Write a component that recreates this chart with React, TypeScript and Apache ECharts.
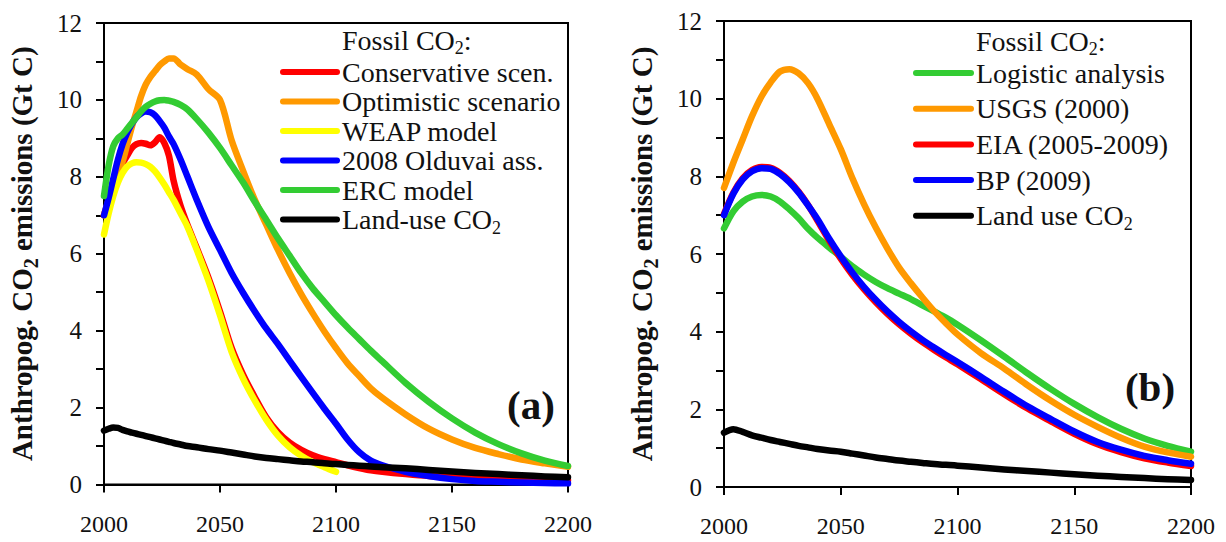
import React, { useEffect, useRef } from "react";
import * as echarts from "echarts";

// ---- Panel (a): fossil scenarios + land-use emissions (Gt C / yr) ----
const yearsA = [
  2000, 2002, 2004, 2006, 2008, 2010, 2012, 2014, 2016, 2018, 2020, 2022, 2024,
  2026, 2028, 2030, 2033, 2036, 2040, 2045, 2050, 2055, 2060, 2065, 2070, 2075,
  2080, 2085, 2090, 2095, 2100, 2105, 2110, 2115, 2120, 2130, 2140, 2150, 2160,
  2170, 2180, 2190, 2200,
];
const conservativeA = [
  7.0, 7.4, 7.8, 8.1, 8.35, 8.55, 8.75, 8.85, 8.88, 8.86, 8.82, 8.9, 9.03,
  8.88, 8.55, 7.9, 7.25, 6.75, 6.15, 5.38, 4.5, 3.55, 2.85, 2.27, 1.74, 1.36,
  1.09, 0.9, 0.76, 0.66, 0.58, 0.5, 0.43, 0.37, 0.33, 0.27, 0.22, 0.19, 0.16,
  0.14, 0.13, 0.12, 0.11,
];
const optimisticA = [
  7.0, 7.4, 7.8, 8.1, 8.4, 8.85, 9.3, 9.7, 10.1, 10.4, 10.6, 10.75, 10.9,
  11.0, 11.08, 11.08, 10.92, 10.8, 10.66, 10.28, 10.0, 8.95, 8.15, 7.4, 6.75,
  6.1, 5.5, 4.95, 4.45, 3.98, 3.55, 3.15, 2.82, 2.5, 2.25, 1.82, 1.45, 1.17,
  0.95, 0.79, 0.65, 0.55, 0.46,
];
const weapA = [
  6.5, 7.05, 7.5, 7.85, 8.1, 8.27, 8.35, 8.38, 8.37, 8.33, 8.26, 8.14, 7.98,
  7.8, 7.6, 7.4, 7.05, 6.7, 6.1, 5.3, 4.4, 3.45, 2.75, 2.18, 1.68, 1.27, 0.97,
  0.75, 0.58, 0.45, 0.33,
];
const olduvaiA = [
  7.0, 7.45, 7.95, 8.45, 8.85, 9.15, 9.38, 9.55, 9.65, 9.7, 9.68, 9.6, 9.45,
  9.28, 9.05, 8.85, 8.45, 8.0, 7.4, 6.7, 6.1, 5.5, 4.98, 4.5, 4.05, 3.65, 3.22,
  2.8, 2.38, 1.97, 1.58, 1.17, 0.84, 0.62, 0.5, 0.33, 0.22, 0.14, 0.09, 0.07,
  0.05, 0.04, 0.03,
];
const ercA = [
  7.5, 8.3, 8.8, 9.0, 9.1, 9.25, 9.4, 9.55, 9.7, 9.82, 9.9, 9.96, 9.99, 10.0,
  9.98, 9.95, 9.87, 9.75, 9.5, 9.15, 8.75, 8.3, 7.85, 7.35, 6.88, 6.4, 5.95,
  5.5, 5.1, 4.75, 4.4, 4.08, 3.78, 3.48, 3.2, 2.64, 2.15, 1.72, 1.35, 1.05,
  0.81, 0.62, 0.48,
];
const landUseA = [
  1.4, 1.45, 1.48, 1.47, 1.42, 1.38, 1.35, 1.32, 1.29, 1.26, 1.23, 1.2, 1.17,
  1.14, 1.11, 1.08, 1.04, 1.0, 0.97, 0.92, 0.88, 0.83, 0.78, 0.73, 0.69, 0.66,
  0.63, 0.6, 0.58, 0.55, 0.53, 0.51, 0.49, 0.47, 0.45, 0.42, 0.38, 0.34, 0.3,
  0.27, 0.24, 0.21, 0.19,
];

// ---- Panel (b): fossil projections + land-use emissions ----
const yearsB = [
  2000, 2004, 2008, 2012, 2016, 2020, 2024, 2028, 2032, 2036, 2040, 2045, 2050,
  2055, 2060, 2065, 2070, 2075, 2080, 2085, 2090, 2095, 2100, 2110, 2120, 2130,
  2140, 2150, 2160, 2170, 2180, 2190, 2200,
];
const logisticB = [
  6.66, 7.1, 7.35, 7.48, 7.52, 7.48, 7.35, 7.15, 6.92, 6.65, 6.42, 6.17, 5.93,
  5.68, 5.47, 5.28, 5.12, 4.98, 4.84, 4.68, 4.52, 4.36, 4.18, 3.78, 3.36, 2.93,
  2.52, 2.14, 1.8, 1.5, 1.25, 1.06, 0.91,
];
const usgsB = [
  7.7, 8.35, 8.95, 9.55, 10.05, 10.42, 10.7, 10.76, 10.65, 10.4, 10.0, 9.35,
  8.7, 7.95, 7.28, 6.68, 6.14, 5.65, 5.25, 4.88, 4.53, 4.22, 3.93, 3.45, 3.05,
  2.62, 2.22, 1.86, 1.55, 1.27, 1.04, 0.89, 0.78,
];
const eiaB = [
  7.03, 7.58, 7.95, 8.16, 8.24, 8.22, 8.09, 7.88, 7.6, 7.26, 6.86, 6.35, 5.88,
  5.46, 5.09, 4.76, 4.46, 4.19, 3.95, 3.73, 3.53, 3.34, 3.16, 2.78, 2.39, 2.02,
  1.69, 1.37, 1.1, 0.9, 0.74, 0.63, 0.54,
];
const bpB = [
  7.0, 7.55, 7.92, 8.13, 8.21, 8.19, 8.06, 7.85, 7.58, 7.25, 6.9, 6.4, 5.94,
  5.52, 5.15, 4.82, 4.52, 4.25, 4.01, 3.79, 3.59, 3.4, 3.22, 2.84, 2.45, 2.08,
  1.75, 1.43, 1.16, 0.96, 0.8, 0.69, 0.6,
];
const landUseB = [
  1.4, 1.49, 1.42, 1.33, 1.27, 1.21, 1.16, 1.11, 1.06, 1.02, 0.98, 0.94, 0.91,
  0.86, 0.81, 0.76, 0.72, 0.68, 0.65, 0.62, 0.59, 0.57, 0.55, 0.5, 0.45, 0.41,
  0.37, 0.33, 0.29, 0.26, 0.23, 0.2, 0.18,
];

const RED = "#ff0000";
const ORANGE = "#ff9900";
const YELLOW = "#ffff00";
const BLUE = "#0000ff";
const GREEN = "#33cc33";
const BLACK = "#000000";

const panelA = [
  { name: "Conservative scen.", color: RED, values: conservativeA },
  { name: "Optimistic scenario", color: ORANGE, values: optimisticA },
  { name: "WEAP model", color: YELLOW, values: weapA },
  { name: "2008 Olduvai ass.", color: BLUE, values: olduvaiA },
  { name: "ERC model", color: GREEN, values: ercA },
  { name: "Land-use CO2", color: BLACK, values: landUseA },
];
const panelB = [
  { name: "Logistic analysis", color: GREEN, values: logisticB },
  { name: "USGS (2000)", color: ORANGE, values: usgsB },
  { name: "EIA (2005-2009)", color: RED, values: eiaB },
  { name: "BP (2009)", color: BLUE, values: bpB },
  { name: "Land use CO2", color: BLACK, values: landUseB },
];

const FONT_NAME = "Liberation Serif";
const FONT = "Liberation Serif, serif";
const INK = "#111111";
const LEGEND_SIZE = 28;
const SUB_SIZE = 18;
const SUB_DROP = 8;

// rich-text styles for the rotated axis title (bold, with subscript)
const axisNameRich = {
  b: { fontFamily: FONT, fontSize: 29, fontWeight: "bold", color: INK, lineHeight: 28 },
  bs: {
    fontFamily: FONT,
    fontSize: 20,
    fontWeight: "bold",
    color: INK,
    lineHeight: 28,
    padding: [17, 0, 0, 0],
  },
};

const toPairs = (xs: number[], ys: number[]) => ys.map((v, i) => [xs[i], v]);

const makeSeries = (
  list: { name: string; color: string; values: number[] }[],
  xs: number[],
  idx: number
) =>
  list.map((s) => ({
    type: "line",
    name: s.name,
    xAxisIndex: idx,
    yAxisIndex: idx,
    data: toPairs(xs, s.values),
    showSymbol: false,
    symbol: "none",
    smooth: 0.3,
    silent: true,
    lineStyle: { color: s.color, width: 6.5, cap: "round", join: "round" },
    itemStyle: { color: s.color },
  }));

type Measure = (t: string, size: number) => number;

const plainText = (text: string, x: number, y: number, size: number) => ({
  type: "text",
  x,
  y,
  style: {
    text,
    fontFamily: FONT,
    fontSize: size,
    fill: INK,
    align: "left",
    verticalAlign: "middle",
  },
});

// a label where "CO2" gets a lowered, smaller "2"
const labelWithSub = (label: string, x: number, y: number, measure: Measure) => {
  const idx = label.indexOf("CO2");
  if (idx < 0) return [plainText(label, x, y, LEGEND_SIZE)];
  const before = label.slice(0, idx + 2);
  const after = label.slice(idx + 3);
  const w1 = measure(before, LEGEND_SIZE);
  const els: any[] = [
    plainText(before, x, y, LEGEND_SIZE),
    plainText("2", x + w1, y + SUB_DROP, SUB_SIZE),
  ];
  if (after) {
    const w2 = measure("2", SUB_SIZE);
    els.push(plainText(after, x + w1 + w2, y, LEGEND_SIZE));
  }
  return els;
};

const makeLegend = (
  list: { name: string; color: string }[],
  x0: number,
  x1: number,
  textX: number,
  titleY: number,
  firstY: number,
  step: number,
  measure: Measure
) => {
  const els: any[] = [...labelWithSub("Fossil CO2:", textX, titleY, measure)];
  list.forEach((s, i) => {
    const y = firstY + i * step;
    els.push({
      type: "line",
      shape: { x1: x0, y1: y, x2: x1, y2: y },
      style: { stroke: s.color, lineWidth: 6, lineCap: "round" },
    });
    els.push(...labelWithSub(s.name, textX, y, measure));
  });
  return els;
};

const yAxisBase = (gridIndex: number) => ({
  type: "value",
  gridIndex,
  min: 0,
  max: 12,
  interval: 2,
  name: "{b|Anthropog. CO}{bs|2}{b| emissions (Gt C)}",
  nameLocation: "middle",
  nameRotate: 90,
  nameGap: 68,
  nameTextStyle: { rich: axisNameRich },
  axisLine: { show: true, lineStyle: { color: "#000", width: 2 } },
  axisTick: { show: true, inside: false, length: 8, lineStyle: { color: "#000", width: 2 } },
  minorTick: { show: true, splitNumber: 2, length: 8, lineStyle: { color: "#000", width: 2 } },
  splitLine: { show: false },
  axisLabel: { fontFamily: FONT, fontSize: 25, color: INK, margin: 22 },
});

const xAxisBase = (gridIndex: number) => ({
  type: "value",
  gridIndex,
  min: 2000,
  max: 2200,
  interval: 50,
  axisLine: { show: true, onZero: false, lineStyle: { color: "#000", width: 2 } },
  axisTick: { show: true, inside: false, length: 8, lineStyle: { color: "#000", width: 2 } },
  splitLine: { show: false },
  axisLabel: {
    fontFamily: FONT,
    fontSize: 24,
    color: INK,
    margin: 27,
    formatter: (v: number) => String(v),
  },
});

export default function App() {
  const ref = useRef<HTMLDivElement>(null);

  useEffect(() => {
    if (!ref.current) return;
    const ctx = document.createElement("canvas").getContext("2d");
    const measure: Measure = (t, size) => {
      if (!ctx) return t.length * size * 0.45;
      ctx.font = `${size}px "${FONT_NAME}", serif`;
      return ctx.measureText(t).width;
    };

    const chart = echarts.init(ref.current, undefined, { renderer: "svg" });
    chart.setOption({
      animation: false,
      backgroundColor: "#ffffff",
      grid: [
        { left: 104, top: 23, width: 464, height: 461.5, show: true, borderColor: "#000", borderWidth: 2 },
        { left: 724, top: 21, width: 467, height: 466, show: true, borderColor: "#000", borderWidth: 2 },
      ],
      xAxis: [xAxisBase(0), xAxisBase(1)],
      yAxis: [yAxisBase(0), yAxisBase(1)],
      series: [...makeSeries(panelA, yearsA, 0), ...makeSeries(panelB, yearsB, 1)],
      graphic: [
        ...makeLegend(panelA, 283, 337, 342, 40, 72, 29.5, measure),
        ...makeLegend(panelB, 916, 971, 976, 41, 73, 35.7, measure),
        {
          type: "text",
          x: 531,
          y: 405,
          style: {
            text: "(a)",
            fontFamily: FONT,
            fontSize: 41,
            fontWeight: "bold",
            fill: INK,
            align: "center",
            verticalAlign: "middle",
          },
        },
        {
          type: "text",
          x: 1150,
          y: 387,
          style: {
            text: "(b)",
            fontFamily: FONT,
            fontSize: 41,
            fontWeight: "bold",
            fill: INK,
            align: "center",
            verticalAlign: "middle",
          },
        },
      ],
    });
    return () => chart.dispose();
  }, []);

  return (
    <div
      ref={ref}
      style={{ position: "absolute", left: 0, top: 0, width: 1226, height: 542, background: "#fff" }}
    />
  );
}
